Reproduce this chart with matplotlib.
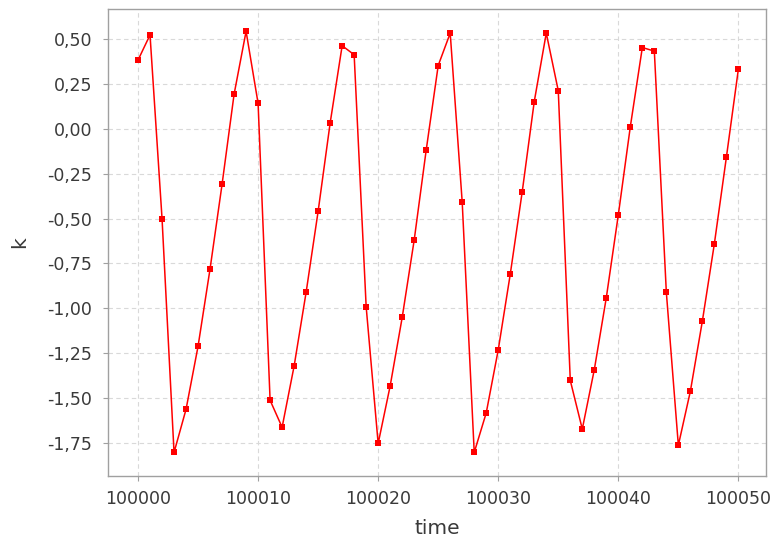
import matplotlib
matplotlib.use("Agg")
from matplotlib import pyplot as plt
from matplotlib.ticker import FuncFormatter, MultipleLocator

plt.rcParams['font.family'] = ['DejaVu Sans']

# data
time = list(range(100000, 100051))
k = [0.38, 0.52, -0.50, -1.80, -1.56, -1.21, -0.78, -0.31, 0.19, 0.54,
     0.14, -1.51, -1.66, -1.32, -0.91, -0.46, 0.03, 0.46, 0.41, -0.99,
     -1.75, -1.43, -1.05, -0.62, -0.12, 0.35, 0.53, -0.41, -1.80, -1.58,
     -1.23, -0.81, -0.35, 0.15, 0.53, 0.21, -1.40, -1.67, -1.34, -0.94,
     -0.48, 0.01, 0.45, 0.43, -0.91, -1.76, -1.46, -1.07, -0.64, -0.16,
     0.33]

fig = plt.figure(figsize=(7.76, 5.50), dpi=100)
ax = fig.add_axes([108/776, (550-475.7)/550, (766-108)/776, (475.7-9)/550])

ax.plot(time, k, color='#ff0000', lw=1.1, marker='s', markersize=4.2,
        markeredgewidth=0)

ax.set_xlim(99997.5, 100052.3)
ax.set_ylim(-1.929, 0.664)
ax.xaxis.set_major_locator(MultipleLocator(10))
ax.yaxis.set_major_locator(MultipleLocator(0.25))
ax.xaxis.set_major_formatter(FuncFormatter(lambda v, p: f'{v:.0f}'))
ax.yaxis.set_major_formatter(FuncFormatter(lambda v, p: f'{v:.2f}'.replace('.', ',')))

ax.grid(True, color='#d9d9d9', linestyle=(0, (4, 3)), linewidth=0.8)
ax.set_axisbelow(True)
for s in ax.spines.values():
    s.set_color('#a0a0a0')
    s.set_linewidth(1.0)
ax.tick_params(direction='out', length=3.5, width=0.8, color='#a0a0a0',
               labelsize=12.5, labelcolor='#3a3a3a')
ax.tick_params(axis='x', pad=7)
ax.tick_params(axis='y', pad=8)

ax.set_xlabel('time', fontsize=14.5, color='#3a3a3a')
ax.set_ylabel('k', fontsize=14.5, color='#3a3a3a')
ax.xaxis.set_label_coords(0.5, -0.092)
ax.yaxis.set_label_coords(-0.12, 0.5)

plt.savefig('out.png', dpi=100)
plt.close(fig)
